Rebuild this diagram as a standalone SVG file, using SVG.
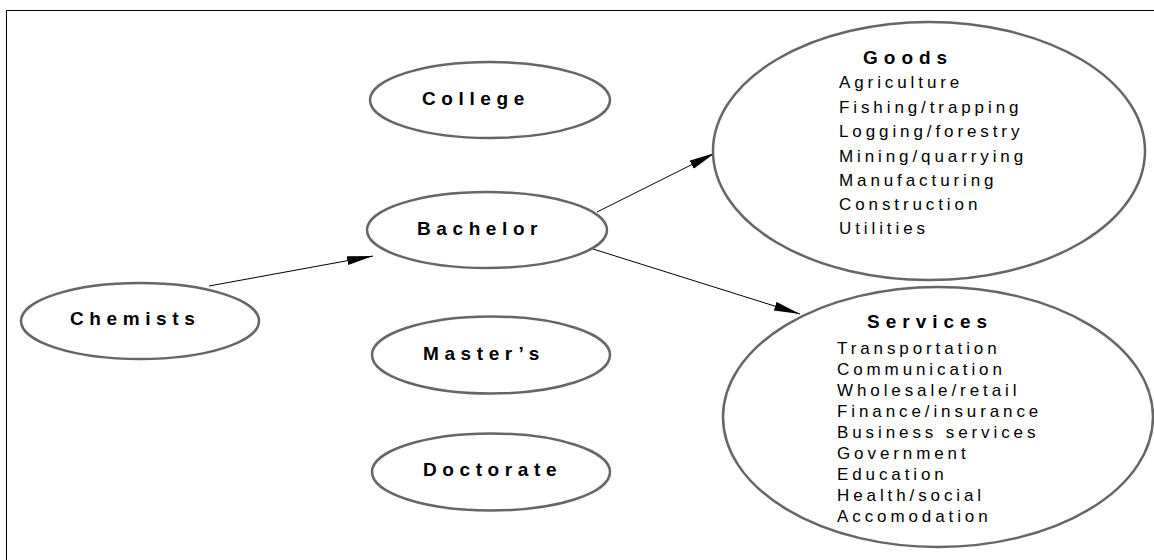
<svg xmlns="http://www.w3.org/2000/svg" width="1154" height="560" viewBox="0 0 1154 560">
<style>
.node{fill:#fff;stroke:#666;stroke-width:2.5}
.lbl{font-family:"Liberation Sans",Arial,sans-serif;font-weight:bold;font-size:19px;letter-spacing:5.6px;fill:#000}
.ttl{font-family:"Liberation Sans",Arial,sans-serif;font-weight:bold;font-size:19px;letter-spacing:6px;fill:#000}
.itm{font-family:"Liberation Sans",Arial,sans-serif;font-size:17px;letter-spacing:3.9px;fill:#000}
.edge{stroke:#000;stroke-width:1;fill:none;marker-end:url(#arr)}
</style>
<defs>
<marker id="arr" markerUnits="userSpaceOnUse" markerWidth="26" markerHeight="10" refX="26" refY="4.5" orient="auto">
<path d="M0,0 L26,4.5 L0,9 z" fill="#000"/>
</marker>
</defs>
<rect width="1154" height="560" fill="#fff"/>
<path d="M6.5,560 L6.5,10.5 L1154,10.5" fill="none" stroke="#000" stroke-width="1"/>
<g id="connectors">
<line class="edge" x1="209" y1="286" x2="373" y2="256"/>
<line class="edge" x1="597" y1="212" x2="715" y2="153"/>
<line class="edge" x1="593" y1="249" x2="800" y2="314"/>
</g>
<g id="college">
<ellipse class="node" cx="490" cy="100" rx="120" ry="38"/>
<text class="lbl" x="422" y="105">College</text>
</g>
<g id="bachelor">
<ellipse class="node" cx="487" cy="230" rx="120" ry="38"/>
<text class="lbl" x="417" y="235">Bachelor</text>
</g>
<g id="chemists">
<ellipse class="node" cx="140" cy="321" rx="119" ry="38"/>
<text class="lbl" x="70" y="325">Chemists</text>
</g>
<g id="masters">
<ellipse class="node" cx="491" cy="355" rx="119" ry="38.5"/>
<text class="lbl" x="423" y="360">Master’s</text>
</g>
<g id="doctorate">
<ellipse class="node" cx="491" cy="472" rx="119" ry="38.5"/>
<text class="lbl" x="423" y="476">Doctorate</text>
</g>
<g id="goods">
<ellipse class="node" cx="929" cy="151" rx="216" ry="129"/>
<text class="ttl" x="863" y="64">Goods</text>
<text class="itm" x="839" y="88">Agriculture</text>
<text class="itm" x="839" y="112.5">Fishing/trapping</text>
<text class="itm" x="839" y="137">Logging/forestry</text>
<text class="itm" x="839" y="161.5">Mining/quarrying</text>
<text class="itm" x="839" y="185.5">Manufacturing</text>
<text class="itm" x="839" y="209.5">Construction</text>
<text class="itm" x="839" y="233.5">Utilities</text>
</g>
<g id="services">
<ellipse class="node" cx="938" cy="417" rx="215" ry="130"/>
<text class="ttl" x="867" y="328">Services</text>
<text class="itm" x="837" y="354">Transportation</text>
<text class="itm" x="837" y="375">Communication</text>
<text class="itm" x="837" y="396">Wholesale/retail</text>
<text class="itm" x="837" y="417">Finance/insurance</text>
<text class="itm" x="837" y="438">Business services</text>
<text class="itm" x="837" y="458.5">Government</text>
<text class="itm" x="837" y="479.5">Education</text>
<text class="itm" x="837" y="500.5">Health/social</text>
<text class="itm" x="837" y="521.5">Accomodation</text>
</g>
</svg>
